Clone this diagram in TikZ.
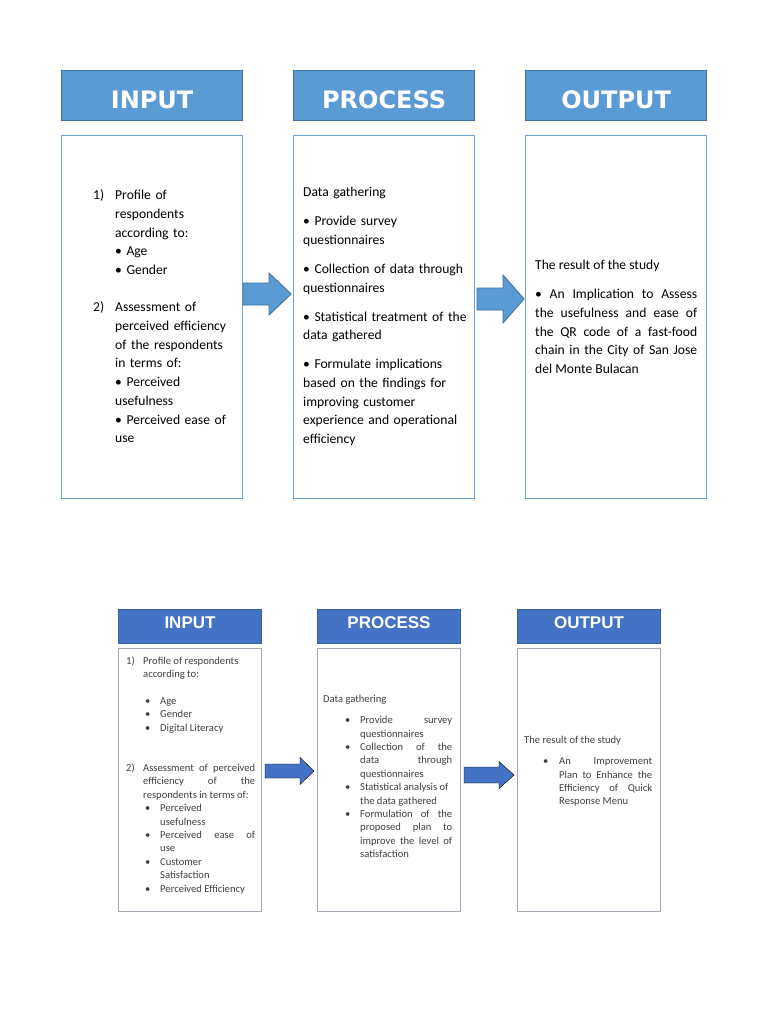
\documentclass[tikz,border=0pt]{standalone}
\usepackage{fontspec}
\setmainfont{Carlito}
\newfontfamily\topfont{DejaVu Sans}
\newfontfamily\botfont{Liberation Sans}
\usepackage{tikz}
\usetikzlibrary{positioning}
\usetikzlibrary{calc}
\setlength{\parindent}{0pt}
\tolerance=10000
\hbadness=10000
% hanging paragraph: text indent, label box, label
\newcommand{\hangpara}[3]{\par\hangindent=#1\hangafter=0\noindent\llap{\makebox[#2][l]{#3}}}
% block arrow: style, tail, tip, shaft half, head half, head length
\newcommand{\blockarrow}[6]{%
  \draw[#1] ($(#2)+(0,-#4)$) -- ($(#3)+(-#6,-#4)$) -- ($(#3)+(-#6,-#5)$) -- (#3)
    -- ($(#3)+(-#6,#5)$) -- ($(#3)+(-#6,#4)$) -- ($(#2)+(0,#4)$) -- cycle;}

\begin{document}
\begin{tikzpicture}[x=1pt,y=-1pt]
   \definecolor{hdrfill}{HTML}{5B9BD5};
   \definecolor{hdrline}{HTML}{41719C};
   \definecolor{boxline}{HTML}{6FA6DA};
   \definecolor{hdrfillb}{HTML}{4472C4};
   \definecolor{hdrlineb}{HTML}{3A5F9E};
   \definecolor{boxlineb}{HTML}{A3ABB6};
   \definecolor{textb}{HTML}{404040};
   \tikzset{
     hdrtop/.style={draw=hdrline,fill=hdrfill,line width=1.2pt,anchor=north west,inner sep=0pt,
       minimum width=181pt,minimum height=50pt,text=white,text height=26pt,text depth=0pt,
       font=\topfont\bfseries\fontsize{24}{28}\selectfont},
     boxtop/.style={draw=boxline,line width=1.4pt,anchor=north west,inner sep=0pt,
       minimum width=181pt,minimum height=363pt},
     hdrbot/.style={draw=hdrlineb,fill=hdrfillb,line width=1pt,anchor=north west,inner sep=0pt,
       minimum width=143pt,minimum height=34pt,text=white,text height=12pt,text depth=8pt,
       font=\botfont\bfseries\fontsize{17}{20}\selectfont},
     boxbot/.style={draw=boxlineb,line width=1.1pt,anchor=north west,inner sep=0pt,
       minimum width=143pt,minimum height=263pt},
     txttop/.style={anchor=north west,inner sep=0pt,align=left,
       font=\fontsize{13.6}{18.7}\selectfont},
     txtbot/.style={anchor=north west,inner sep=0pt,align=justify,text=textb,
       font=\fontsize{10.6}{13.4}\selectfont},
     arrtop/.style={draw=hdrline,fill=hdrfill,line width=0.9pt},
     arrbot/.style={fill=hdrfillb}
   }
   \useasboundingbox (0,0) rectangle (768,1024);
   % upper chart
   \foreach \nm/\x/\lab in {in/61/INPUT,pro/293/PROCESS,out/525/OUTPUT} {
      \node[hdrtop] (\nm Hdr) at (\x,70) {\lab};
      \node[boxtop] (\nm Box) at (\x,135) {};
   }
   \node[txttop] (inNumA) at (93,186.4) {\strut 1)};
   \node[txttop] (inNumB) at (93,298.6) {\strut 2)};
   \node[txttop,text width=122pt] (inText) at (115,186.4) {\strut Profile of\\ respondents\\ according to:\\
      • Age\\ • Gender\\[18.7pt] Assessment of\\ perceived efficiency\\ of the respondents\\ in terms of:\\
      • Perceived\\ usefulness\\ • Perceived ease of\\ use};
   \node[txttop,text width=166pt] (proText) at (303,183.4) {\strut Data gathering\\[10.3pt]
      • Provide survey\\ questionnaires\\[10.3pt]
      • Collection of data through\\ questionnaires\\[10.3pt]
      • Statistical treatment of the\\ data gathered\\[10.3pt]
      • Formulate implications\\ based on the findings for\\ improving customer\\
      experience and operational\\ efficiency};
   \node[txttop,align=justify,text width=162pt] (outText) at (535,256.4) {\strut The result of the study\par\vspace{10.3pt}
      \strut• An Implication to Assess\linebreak the usefulness and ease of\linebreak
      the QR code of a fast-food\linebreak chain in the City of San Jose\linebreak del Monte Bulacan};
   \coordinate (arrAtail) at (243,294);
   \coordinate (arrAtip) at (291,294);
   \coordinate (arrBtail) at (477,299);
   \coordinate (arrBtip) at (524,299);
   \blockarrow{arrtop}{arrAtail}{arrAtip}{11}{21}{22}
   \blockarrow{arrtop}{arrBtail}{arrBtip}{11}{24}{21}
   % lower chart
   \foreach \nm/\x/\lab in {inb/118/INPUT,prob/317/PROCESS,outb/517/OUTPUT} {
      \node[hdrbot] (\nm Hdr) at (\x,609) {\lab};
      \node[boxbot] (\nm Box) at (\x,648) {};
   }
   \node[txtbot,text width=129pt] (inbText) at (126,650.6) {%
      \hangpara{17pt}{17pt}{1)}\strut Profile of respondents\newline according to:\par\vspace{13.4pt}
      \hangpara{34pt}{15pt}{•}Age\par
      \hangpara{34pt}{15pt}{•}Gender\par
      \hangpara{34pt}{15pt}{•}Digital Literacy\par\vspace{26.8pt}
      \hangpara{17pt}{17pt}{2)}Assessment of perceived\linebreak efficiency of the\linebreak respondents~in~terms~of:\par
      \hangpara{34pt}{15pt}{•}Perceived\newline usefulness\par
      \hangpara{34pt}{15pt}{•}Perceived ease of\linebreak use\par
      \hangpara{34pt}{15pt}{•}Customer\newline Satisfaction\par
      \hangpara{34pt}{15pt}{•}Perceived Efficiency\par};
   \node[txtbot,text width=129pt] (probText) at (323,693.1) {%
      \strut Data gathering\par\vspace{7.6pt}
      \hangpara{37pt}{15pt}{•}Provide survey\linebreak questionnaires\par
      \hangpara{37pt}{15pt}{•}Collection of the\linebreak data through\linebreak questionnaires\par
      \hangpara{37pt}{15pt}{•}Statistical analysis of\newline the data gathered\par
      \hangpara{37pt}{15pt}{•}Formulation of the\linebreak proposed plan to\linebreak improve the level of\linebreak satisfaction\par};
   \node[txtbot,text width=128pt] (outbText) at (524,734.1) {%
      \strut The result of the study\par\vspace{7.6pt}
      \hangpara{35pt}{16pt}{•}An Improvement\linebreak Plan to Enhance the\linebreak Efficiency of Quick\linebreak Response Menu\par};
   \coordinate (arrCtail) at (265,771);
   \coordinate (arrCtip) at (314,771);
   \coordinate (arrDtail) at (464,775);
   \coordinate (arrDtip) at (514,775);
   \blockarrow{arrbot}{arrCtail}{arrCtip}{7}{13.5}{14}
   \blockarrow{arrbot}{arrDtail}{arrDtip}{8}{13.5}{15}
\end{tikzpicture}
\end{document}
